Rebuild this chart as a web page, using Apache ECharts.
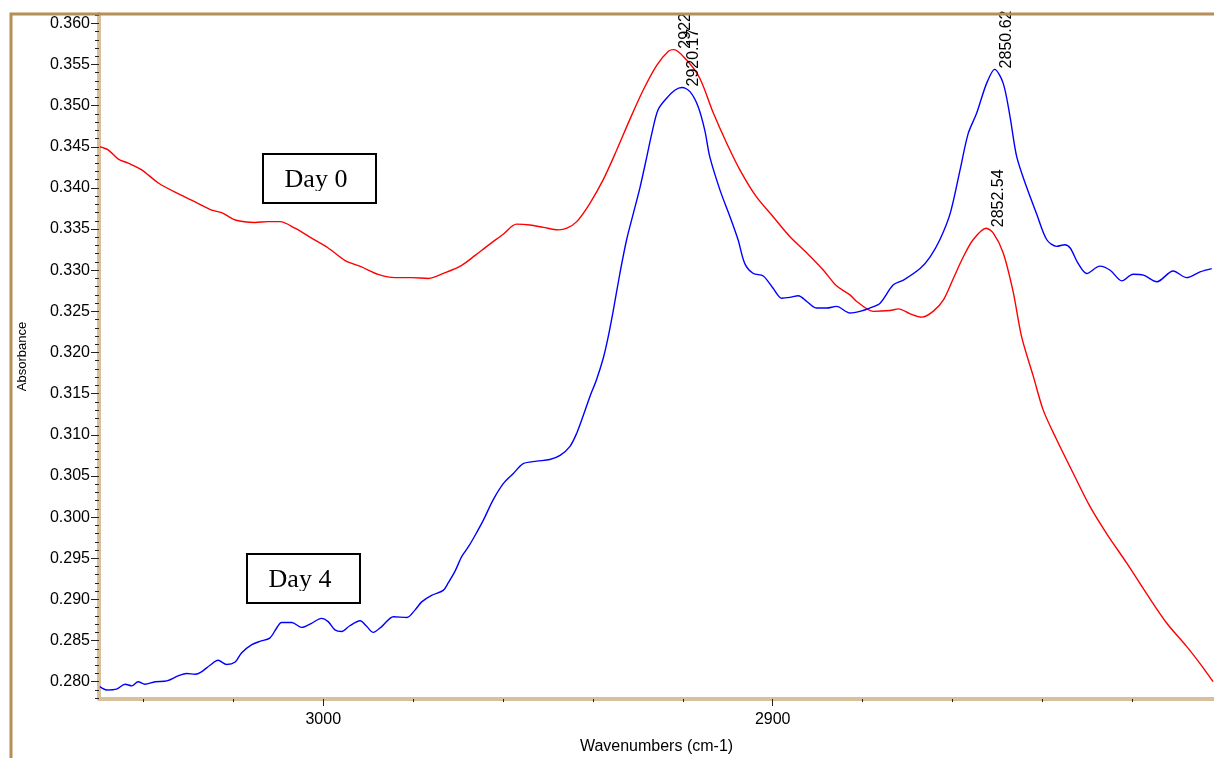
<!DOCTYPE html>
<html>
<head>
<meta charset="utf-8">
<script src="https://cdn.jsdelivr.net/npm/echarts/dist/echarts.min.js"></script>
<style>
  html, body { margin: 0; padding: 0; background: #fff; }
  #chart { width: 1214px; height: 758px; }
</style>
</head>
<body>
<div id="chart"></div>
<script>
// Day 0 spectrum (red)
var day0Wn = [3049.7, 3047.8, 3045.6, 3043.4, 3040.4, 3036.7, 3032.3, 3028.5, 3024.8, 3022.6,
  3019.6, 3015.2, 3012.2, 3009.6, 3006.3, 3002.6, 2998.9, 2995.2, 2991.5, 2987.8,
  2984.0, 2980.3, 2976.6, 2972.9, 2969.2, 2966.2, 2963.6, 2959.9, 2957.0, 2954.0,
  2951.0, 2947.7, 2945.8, 2943.6, 2940.7, 2937.7, 2934.7, 2931.8, 2928.8, 2925.8,
  2923.2, 2922.0, 2919.1, 2916.2, 2913.2, 2910.2, 2907.3, 2903.6, 2899.9, 2896.2,
  2892.4, 2888.7, 2885.8, 2882.8, 2881.3, 2877.6, 2873.9, 2872.0, 2869.4, 2866.8,
  2864.3, 2862.0, 2859.8, 2857.6, 2855.4, 2852.5, 2850.9, 2848.7, 2846.5, 2844.6,
  2842.0, 2839.8, 2836.8, 2833.1, 2829.4, 2825.7, 2821.2, 2816.8, 2812.3, 2807.9,
  2804.9, 2802.0];
var day0Abs = [0.3450, 0.3446, 0.3435, 0.3430, 0.3422, 0.3406, 0.3393, 0.3383, 0.3373, 0.3370,
  0.3361, 0.3358, 0.3359, 0.3359, 0.3351, 0.3339, 0.3327, 0.3312, 0.3304, 0.3295,
  0.3291, 0.3291, 0.3290, 0.3297, 0.3306, 0.3318, 0.3329, 0.3344, 0.3356, 0.3355,
  0.3352, 0.3349, 0.3351, 0.3359, 0.3381, 0.3410, 0.3446, 0.3483, 0.3519, 0.3549,
  0.3566, 0.3568, 0.3555, 0.3533, 0.3491, 0.3454, 0.3422, 0.3389, 0.3365, 0.3341,
  0.3321, 0.3300, 0.3281, 0.3270, 0.3262, 0.3250, 0.3251, 0.3253, 0.3247, 0.3243,
  0.3250, 0.3264, 0.3290, 0.3316, 0.3337, 0.3351, 0.3345, 0.3321, 0.3274, 0.3219,
  0.3171, 0.3130, 0.3094, 0.3053, 0.3013, 0.2980, 0.2944, 0.2907, 0.2871, 0.2843,
  0.2822, 0.2800];

// Day 4 spectrum (blue)
var day4Wn = [3049.7, 3048.2, 3046.0, 3044.1, 3042.6, 3041.2, 3039.7, 3037.4, 3034.8, 3032.3,
  3030.4, 3028.5, 3027.1, 3025.2, 3023.4, 3021.5, 3019.6, 3018.2, 3015.9, 3014.1,
  3011.9, 3010.4, 3009.3, 3007.0, 3004.8, 3002.6, 3000.4, 2998.9, 2997.4, 2995.9,
  2994.1, 2991.8, 2990.3, 2988.9, 2987.0, 2984.4, 2981.4, 2979.6, 2978.1, 2975.9,
  2973.3, 2972.2, 2970.7, 2969.2, 2967.7, 2966.2, 2964.4, 2962.2, 2959.9, 2957.7,
  2955.5, 2952.5, 2949.6, 2947.3, 2945.1, 2943.6, 2942.1, 2940.7, 2939.2, 2937.7,
  2936.6, 2935.5, 2934.0, 2932.5, 2931.0, 2929.5, 2928.0, 2926.9, 2925.5, 2923.6,
  2921.7, 2920.2, 2918.4, 2916.6, 2915.1, 2914.0, 2911.7, 2909.5, 2907.7, 2906.2,
  2904.3, 2902.1, 2899.9, 2898.0, 2896.2, 2894.3, 2892.4, 2890.2, 2888.0, 2885.8,
  2882.8, 2880.6, 2878.4, 2876.1, 2873.2, 2870.9, 2867.2, 2865.0, 2862.8, 2860.5,
  2858.3, 2856.5, 2854.6, 2852.4, 2850.6, 2848.7, 2847.2, 2845.7, 2843.5, 2841.3,
  2839.0, 2836.8, 2835.0, 2833.8, 2832.0, 2830.1, 2827.2, 2824.9, 2822.3, 2819.8,
  2817.5, 2814.5, 2810.9, 2807.9, 2804.9, 2802.3];
var day4Abs = [0.2794, 0.2790, 0.2791, 0.2797, 0.2795, 0.2800, 0.2797, 0.2800, 0.2801, 0.2807,
  0.2810, 0.2809, 0.2812, 0.2820, 0.2826, 0.2821, 0.2824, 0.2835, 0.2845, 0.2849,
  0.2853, 0.2865, 0.2872, 0.2872, 0.2866, 0.2871, 0.2877, 0.2873, 0.2863, 0.2861,
  0.2868, 0.2874, 0.2867, 0.2860, 0.2867, 0.2879, 0.2878, 0.2887, 0.2897, 0.2905,
  0.2911, 0.2920, 0.2934, 0.2952, 0.2964, 0.2978, 0.2996, 0.3021, 0.3041, 0.3053,
  0.3065, 0.3068, 0.3070, 0.3075, 0.3086, 0.3102, 0.3124, 0.3146, 0.3167, 0.3193,
  0.3219, 0.3250, 0.3296, 0.3337, 0.3369, 0.3401, 0.3438, 0.3466, 0.3495, 0.3509,
  0.3519, 0.3522, 0.3517, 0.3499, 0.3470, 0.3438, 0.3397, 0.3365, 0.3337, 0.3308,
  0.3296, 0.3293, 0.3278, 0.3266, 0.3267, 0.3269, 0.3262, 0.3254, 0.3254, 0.3256,
  0.3248, 0.3250, 0.3254, 0.3260, 0.3282, 0.3288, 0.3302, 0.3316, 0.3337, 0.3369,
  0.3422, 0.3466, 0.3491, 0.3527, 0.3544, 0.3527, 0.3487, 0.3438, 0.3401, 0.3369,
  0.3337, 0.3329, 0.3331, 0.3327, 0.3308, 0.3296, 0.3305, 0.3300, 0.3287, 0.3295,
  0.3294, 0.3286, 0.3299, 0.3291, 0.3298, 0.3302];

// peak labels
var day0Peaks = ['2922', '2852.54'];
var day4Peaks = ['2920.17', '2850.62'];

// axis ticks
var xMajorTicks = [3000, 2900];
var xMinorTicks = [3040, 3020, 3000, 2980, 2960, 2940, 2920, 2900, 2880, 2860, 2840, 2820];
var yMajorTicks = [0.280, 0.285, 0.290, 0.295, 0.300, 0.305, 0.310, 0.315, 0.320, 0.325,
  0.330, 0.335, 0.340, 0.345, 0.350, 0.355, 0.360];

var yMinorTicks = [];
for (var k = 278; k <= 361; k++) yMinorTicks.push(k / 1000);

var X_MIN = 2801.8, X_MAX = 3049.9;
var Y_MIN = 0.2779, Y_MAX = 0.36113;

var FONT = '"Liberation Sans", Arial, sans-serif';
var SERIF = '26px "Liberation Serif", "Times New Roman", serif';
var AXIS_TAN = '#d8c09c';

function pairs(xs, ys) {
  return xs.map(function (x, i) { return [x, ys[i]]; });
}

// put each peak label on the reading nearest to its wavenumber
function peakMarks(xs, ys, labels) {
  return labels.map(function (txt) {
    var target = Number(txt);
    var best = 0;
    for (var i = 1; i < xs.length; i++) {
      if (Math.abs(xs[i] - target) < Math.abs(xs[best] - target)) best = i;
    }
    return { coord: [xs[best], ys[best]], value: txt };
  });
}

var peakLabel = {
  show: true,
  position: 'inside',
  rotate: 90,
  align: 'left',
  verticalAlign: 'top',
  padding: [4, 0, 0, 1],
  color: '#000',
  fontSize: 16,
  fontFamily: FONT,
  formatter: function (p) { return p.value; }
};

function dayBox(left, top, text) {
  return {
    type: 'group', left: left, top: top, z: 101,
    children: [
      { type: 'rect', shape: { x: 0, y: 0, width: 113, height: 49 }, style: { fill: '#fff', stroke: '#000', lineWidth: 2 } },
      { type: 'text', x: 53, y: 26, style: { text: text, font: SERIF, fill: '#000', align: 'center', verticalAlign: 'middle' } },
      // the original box hides the descenders
      { type: 'rect', z: 2, shape: { x: 2, y: 37, width: 109, height: 10 }, style: { fill: '#fff' } }
    ]
  };
}

var chart = echarts.init(document.getElementById('chart'), null, { renderer: 'canvas' });
chart.setOption({
  backgroundColor: '#fff',
  animation: false,
  grid: { left: 99, right: 0, top: 14, bottom: 59, outerBoundsMode: 'none' },
  xAxis: [
    {
      type: 'value', inverse: true, min: X_MIN, max: X_MAX, position: 'bottom',
      axisLine: { show: true, lineStyle: { color: AXIS_TAN, width: 4 } },
      axisTick: { show: true, customValues: xMinorTicks, length: 3, lineStyle: { color: '#222', width: 1 } },
      axisLabel: { show: false },
      splitLine: { show: false }
    },
    {
      type: 'value', inverse: true, min: X_MIN, max: X_MAX, position: 'bottom',
      name: 'Wavenumbers (cm-1)', nameLocation: 'middle', nameGap: 40,
      nameTextStyle: { color: '#000', fontSize: 16, fontFamily: FONT },
      axisLine: { show: false },
      axisTick: { show: true, customValues: xMajorTicks, length: 7, lineStyle: { color: '#222', width: 1 } },
      axisLabel: {
        show: true, customValues: xMajorTicks, margin: 13, color: '#000', fontSize: 16, fontFamily: FONT,
        formatter: function (v) { return String(v); }
      },
      splitLine: { show: false }
    }
  ],
  yAxis: [
    {
      type: 'value', min: Y_MIN, max: Y_MAX, position: 'left',
      axisLine: { show: true, lineStyle: { color: AXIS_TAN, width: 4 } },
      axisTick: { show: true, customValues: yMinorTicks, length: 4, lineStyle: { color: '#222', width: 1 } },
      axisLabel: { show: false },
      splitLine: { show: false }
    },
    {
      type: 'value', min: Y_MIN, max: Y_MAX, position: 'left',
      name: 'Absorbance', nameLocation: 'middle', nameGap: 70,
      nameTextStyle: { color: '#000', fontSize: 13, fontFamily: FONT },
      axisLine: { show: false },
      axisTick: { show: true, customValues: yMajorTicks, length: 8, lineStyle: { color: '#222', width: 1 } },
      axisLabel: {
        show: true, customValues: yMajorTicks, margin: 9, color: '#000', fontSize: 16, fontFamily: FONT,
        formatter: function (v) { return v.toFixed(3); }
      },
      splitLine: { show: false }
    }
  ],
  series: [
    {
      name: 'Day 0', type: 'line', xAxisIndex: 0, yAxisIndex: 0,
      data: pairs(day0Wn, day0Abs),
      showSymbol: false, smooth: 0.3,
      lineStyle: { color: '#ff0000', width: 1.4 },
      itemStyle: { color: '#ff0000' },
      markPoint: {
        symbol: 'circle', symbolSize: 0, silent: true,
        label: peakLabel,
        data: peakMarks(day0Wn, day0Abs, day0Peaks)
      }
    },
    {
      name: 'Day 4', type: 'line', xAxisIndex: 0, yAxisIndex: 0,
      data: pairs(day4Wn, day4Abs),
      showSymbol: false, smooth: 0.3,
      lineStyle: { color: '#0000ff', width: 1.4 },
      itemStyle: { color: '#0000ff' },
      markPoint: {
        symbol: 'circle', symbolSize: 0, silent: true,
        label: peakLabel,
        data: peakMarks(day4Wn, day4Abs, day4Peaks)
      }
    }
  ],
  graphic: [
    {
      type: 'rect', z: 100, silent: true,
      shape: { x: 11, y: 14, width: 1300, height: 800 },
      style: { fill: 'none', stroke: '#b48f58', lineWidth: 3 }
    },
    dayBox(262, 153, 'Day 0'),
    dayBox(246, 553, 'Day 4')
  ]
});
</script>
</body>
</html>
